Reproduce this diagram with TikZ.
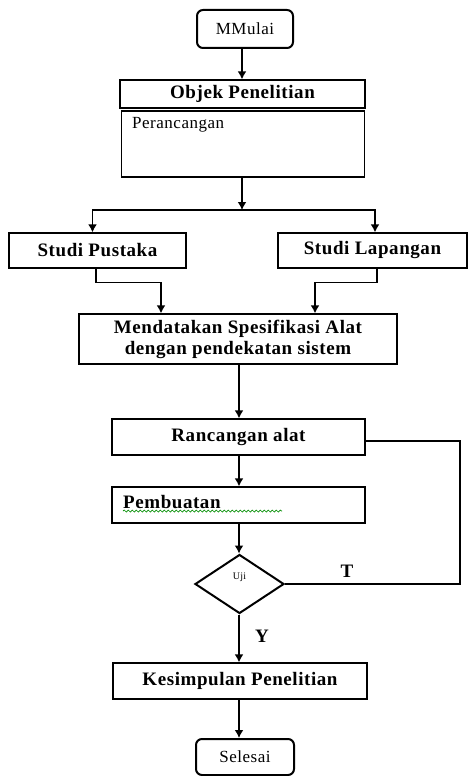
\documentclass[tikz,border=0pt]{standalone}
\usepackage{fontspec}
\setmainfont{Liberation Serif}
\newfontfamily\spcfont{Liberation Serif}[LetterSpace=3]
\usetikzlibrary{shapes.geometric,arrows.meta,decorations.pathmorphing}
\newcommand{\bfnt}{\spcfont\bfseries\fontsize{19}{21}\selectfont}
\newcommand{\rfnt}{\spcfont\fontsize{17}{19}\selectfont}
\begin{document}
\begin{tikzpicture}[x=1pt,y=-1pt,
  tbox/.style={draw, line width=1.3pt, inner sep=0pt, font=\bfnt, align=center},
  term/.style={draw, rounded corners=6pt, line width=2pt, inner sep=0pt, font=\rfnt},
  arr/.style={line width=1.6pt, -{Latex[length=8pt,width=9pt]}},
  ln/.style={line width=1.4pt},
  lbl/.style={font=\bfnt, inner sep=0pt}]
\useasboundingbox (0,0) rectangle (468,776);
\node[term, minimum width=96pt, minimum height=38pt] (start) at (245,29) {MMulai};
\node[tbox, minimum width=245pt, minimum height=28pt] (objek) at (242.5,94) {Objek Penelitian};
\node[tbox, minimum width=243pt, minimum height=66pt] (peranc) at (243.3,144) {};
\node[anchor=north west, font=\rfnt, inner sep=0pt] (perantxt) at (132,117) {Perancangan};
\node[tbox, minimum width=177pt, minimum height=35pt] (pustaka) at (97.5,250.5) {Studi Pustaka};
\node[tbox, minimum width=189pt, minimum height=35pt] (lapangan) at (372.5,250.5) {Studi Lapangan};
\node[tbox, minimum width=318pt, minimum height=50pt] (mendata) at (238,339) {Mendatakan Spesifikasi Alat\\dengan pendekatan sistem};
\node[tbox, minimum width=253pt, minimum height=36pt] (rancang) at (238.5,437) {Rancangan alat};
\node[tbox, minimum width=253pt, minimum height=36pt] (pembuat) at (238.5,505) {};
\node[anchor=base west, font=\bfnt, inner sep=0pt] (pembtxt) at (123,508) {Pembuatan};
\node[draw, diamond, line width=2pt, minimum width=89pt, minimum height=59pt, inner sep=0pt] (uji) at (239.5,584) {};
\node[font=\spcfont\fontsize{10}{12}\selectfont, inner sep=0pt] (ujitxt) at (239.5,577) {Uji};
\node[tbox, minimum width=254pt, minimum height=36pt] (kesimp) at (240,681) {Kesimpulan Penelitian};
\node[term, minimum width=98pt, minimum height=36pt] (selesai) at (245,757) {Selesai};
\node[lbl] (tlab) at (347,571) {T};
\node[lbl] (ylab) at (262,636) {Y};
\coordinate (split) at (242,210);
\coordinate (loopT) at (460,441);
\coordinate (loopB) at (460,584);
\coordinate (axis) at (239,0);
\draw[green!55!black, line width=0.7pt, decorate, decoration={snake, amplitude=1pt, segment length=4pt}] (123,511) -- (282,511);
\draw[arr] (start.south -| split) -- (objek.north -| split);
\draw[arr] (peranc.south -| split) -- (split);
\draw[arr] (split) -| ([xshift=-5pt]pustaka.north);
\draw[arr] (split) -| ([xshift=2.5pt]lapangan.north);
\draw[arr] ([xshift=-1.5pt]pustaka.south) -- ++(0,14) -| ([xshift=-77pt]mendata.north);
\draw[arr] ([xshift=4.5pt]lapangan.south) -- ++(0,14) -| ([xshift=77pt]mendata.north);
\draw[arr] (mendata.south -| axis) -- (rancang.north -| axis);
\draw[arr] (rancang.south -| axis) -- (pembuat.north -| axis);
\draw[arr] (pembuat.south -| axis) -- (uji.north -| axis);
\draw[arr] (uji.south -| axis) -- (kesimp.north -| axis);
\draw[arr] (kesimp.south -| axis) -- (selesai.north -| axis);
\draw[ln] (uji.east) -- (loopB) -- (loopT) -- (loopT -| rancang.east);
\end{tikzpicture}
\end{document}
